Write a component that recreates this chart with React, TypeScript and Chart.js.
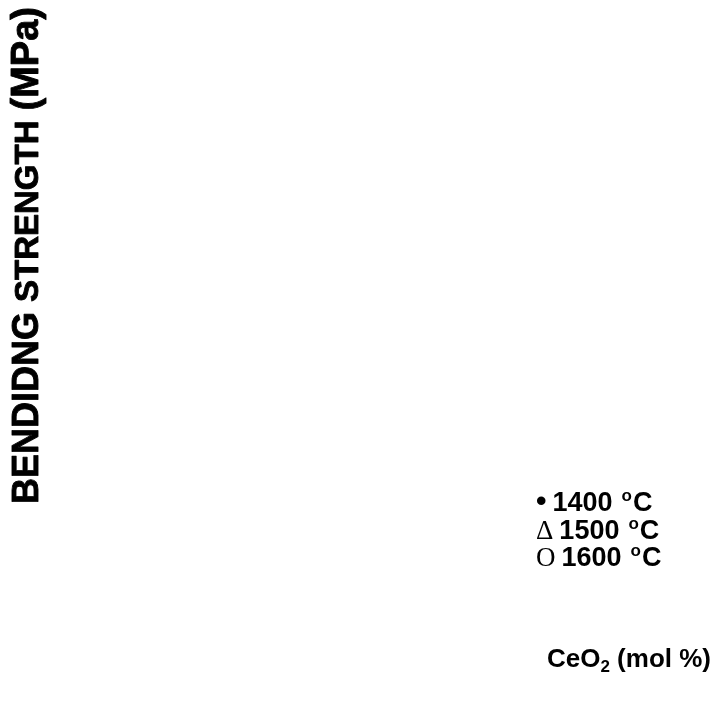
import React, { useEffect, useRef } from "react";
import { Chart, registerables } from "chart.js";

Chart.register(...registerables);

// Data (the reference shows no plotted marks, only labels)
const seriesNames: string[] = ["1400", "1500", "1600"];
const seriesSymbols: string[] = ["\u2022", "\u0394", "O"];
const series1400: { x: number; y: number }[] = [];
const series1500: { x: number; y: number }[] = [];
const series1600: { x: number; y: number }[] = [];
const yTitleParts: string[] = ["BENDIDNG", "STRENGTH", "(MPa)"];
const xTitleMain = "CeO";
const xTitleSub = "2";
const xTitleRest = " (mol %)";
const unitSup = "o";
const unitLetter = "C";

const SANS = "Arial, 'Liberation Sans', Helvetica, sans-serif";
const SERIF = "'Liberation Serif', 'Times New Roman', serif";

const textPlugin = {
  id: "textPlugin",
  afterDraw(chart: any) {
    const ctx: CanvasRenderingContext2D = chart.ctx;
    ctx.save();
    ctx.fillStyle = "#000";
    ctx.strokeStyle = "#000";
    ctx.textBaseline = "alphabetic";
    ctx.textAlign = "left";

    // Y axis title, rotated
    ctx.save();
    ctx.translate(38, 504);
    ctx.rotate(-Math.PI / 2);
    ctx.lineWidth = 0.9;
    ctx.lineJoin = "round";
    const sizes = [36, 33, 38];
    let x = 0;
    yTitleParts.forEach((p, i) => {
      if (i > 0) {
        ctx.font = `bold 36px ${SANS}`;
        x += ctx.measureText(" ").width;
      }
      ctx.font = `bold ${sizes[i]}px ${SANS}`;
      ctx.fillText(p, x, 0);
      ctx.strokeText(p, x, 0);
      x += ctx.measureText(p).width;
    });
    ctx.restore();

    // Legend text block
    const rowBase = [511, 539, 566];
    seriesNames.forEach((name, i) => {
      let cx = 536;
      if (i === 0) ctx.font = `bold 30px ${SANS}`;
      else ctx.font = `27px ${SERIF}`;
      ctx.fillText(seriesSymbols[i], cx, rowBase[i]);
      cx += ctx.measureText(seriesSymbols[i]).width + 6;
      ctx.font = `bold 27px ${SANS}`;
      ctx.fillText(name, cx, rowBase[i]);
      cx += ctx.measureText(name).width + 9;
      ctx.font = `bold 17px ${SANS}`;
      ctx.fillText(unitSup, cx, rowBase[i] - 10);
      cx += ctx.measureText(unitSup).width + 1;
      ctx.font = `bold 27px ${SANS}`;
      ctx.fillText(unitLetter, cx, rowBase[i]);
    });

    // X axis title (right aligned near the right edge)
    const base = 667;
    ctx.font = `bold 26px ${SANS}`;
    const w1 = ctx.measureText(xTitleMain).width;
    const w3 = ctx.measureText(xTitleRest).width;
    ctx.font = `bold 17px ${SANS}`;
    const w2 = ctx.measureText(xTitleSub).width;
    let sx = 711 - (w1 + w2 + w3);
    ctx.font = `bold 26px ${SANS}`;
    ctx.fillText(xTitleMain, sx, base);
    sx += w1;
    ctx.font = `bold 17px ${SANS}`;
    ctx.fillText(xTitleSub, sx, base + 5);
    sx += w2;
    ctx.font = `bold 26px ${SANS}`;
    ctx.fillText(xTitleRest, sx, base);

    ctx.restore();
  },
};

export default function App() {
  const ref = useRef<HTMLCanvasElement | null>(null);
  useEffect(() => {
    if (!ref.current) return;
    const chart = new Chart(ref.current, {
      type: "scatter",
      data: {
        datasets: [
          { label: seriesNames[0], data: series1400, pointStyle: "circle", backgroundColor: "#000", borderColor: "#000" },
          { label: seriesNames[1], data: series1500, pointStyle: "triangle", backgroundColor: "transparent", borderColor: "#000" },
          { label: seriesNames[2], data: series1600, pointStyle: "circle", backgroundColor: "transparent", borderColor: "#000" },
        ],
      },
      options: {
        responsive: false,
        animation: false,
        plugins: { legend: { display: false }, tooltip: { enabled: false } },
        scales: {
          x: { display: false },
          y: { display: false },
        },
      },
      plugins: [textPlugin],
    });
    return () => chart.destroy();
  }, []);
  return (
    <div style={{ position: "absolute", left: 0, top: 0, width: 714, height: 702, background: "#fff" }}>
      <canvas ref={ref} width={714} height={702} style={{ display: "block" }} />
    </div>
  );
}
